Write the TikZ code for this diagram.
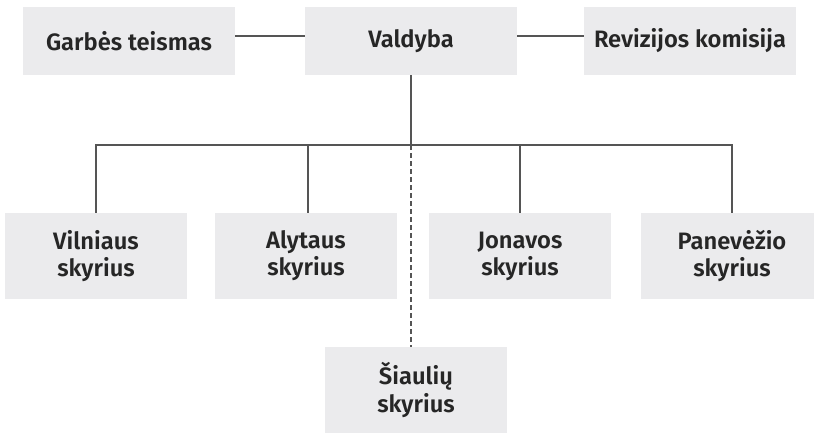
\documentclass[tikz,border=0pt]{standalone}
\usepackage{fontspec}
\setmainfont{Fira Sans}[BoldFont={* SemiBold}]
\usetikzlibrary{positioning}

\definecolor{boxgray}{HTML}{EBEBED}
\definecolor{linegray}{HTML}{555555}
\definecolor{textgray}{HTML}{262626}

\begin{document}
\begin{tikzpicture}[x=0.75pt, y=-0.75pt,
    every node/.style={font=\bfseries\fontsize{17.8}{20.3}\selectfont, text=textgray},
    org/.style={fill=boxgray, inner sep=0pt, minimum width=159pt, minimum height=51pt},
    branch/.style={fill=boxgray, inner sep=0pt, align=center, minimum width=136.5pt, minimum height=64.5pt},
    link/.style={draw=linegray, line width=1.5pt},
    loose/.style={draw=linegray, line width=0.8pt, dash pattern=on 3.5pt off 2.5pt}]
        \useasboundingbox (0,0) rectangle (814,432);

        % Top row
        \node[org] (garbes) at (129,41) {Garbės teismas};
        \node[org] (valdyba) at (411,41) {Valdyba};
        \node[org] (revizija) at (690,41) {Revizijos komisija};

        % Branches
        \node[branch] (vilnius) at (96,256) {Vilniaus\\skyrius};
        \node[branch] (alytus) at (306,256) {Alytaus\\skyrius};
        \node[branch] (jonava) at (520,256) {Jonavos\\skyrius};
        \node[branch] (panevezys) at (732,256) {Panevėžio\\skyrius};
        \node[branch] (siauliai) at (416,390) {Šiaulių\\skyrius};
        \coordinate (fork) at (411,145);

        % Lines
        \draw[link] ([yshift=3.75pt]garbes.east) -- ([yshift=3.75pt]valdyba.west);
        \draw[link] ([yshift=3.75pt]valdyba.east) -- ([yshift=3.75pt]revizija.west);
        \draw[link] (valdyba) -- (fork);
        \draw[link] (vilnius.north) |- (fork) -| (panevezys.north);
        \draw[link] ([xshift=1.5pt]alytus.north) -- ([xshift=1.5pt]alytus.north |- fork);
        \draw[link] (jonava.north) -- (jonava.north |- fork);
        \draw[loose] (fork) -- (fork |- siauliai.north);
      \end{tikzpicture}
\end{document}
